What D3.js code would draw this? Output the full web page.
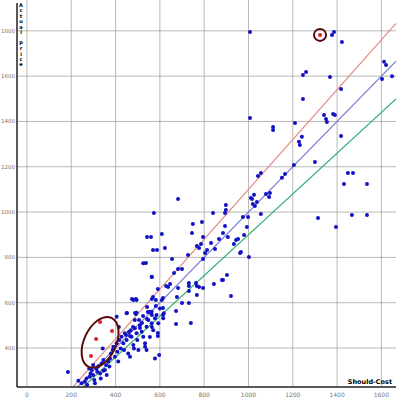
<!DOCTYPE html>
<html><head><meta charset="utf-8">
<script src="https://cdn.jsdelivr.net/npm/d3@7"></script>
<style>body{margin:0;background:#fff}svg{display:block;font-family:"DejaVu Sans",sans-serif}</style>
</head><body><div id="chart"></div>
<script>
const xTicks = [0, 200, 400, 600, 800, 1000, 1200, 1400, 1600];
const yTicks = [400, 600, 800, 1000, 1200, 1400, 1600, 1800];
const lineFactors = [1.1, 1.0, 0.9];
const lineColors = ["#e08a86", "#7b7bd6", "#2fb070"];

// blue points [should-cost, actual]
const points = [
  [1007,1795],[1377,1782],[1386,1795],[1422,1751],[1246,1605],[1260,1618],[1368,1596],[1418,1543],
  [1246,1499],[1007,1415],[1111,1376],[1111,1362],[1210,1393],[1341,1429],[1350,1411],[1354,1398],
  [1382,1433],[1390,1429],[1418,1336],[1241,1332],[1228,1310],[1232,1296],[1300,1221],[1205,1208],
  [1165,1168],[1151,1151],[1056,1173],[1043,1159],[1449,1173],[1472,1173],[1431,1124],[1535,1124],
  [1079,1080],[1097,1084],[1093,1067],[1025,1076],[1016,1058],[1038,1044],[1020,1036],[1029,1027],
  [975,978],[998,978],[993,934],[1056,992],[1314,974],[1395,934],[1467,987],[1535,987],
  [1612,1663],[1621,1649],[1603,1587],[1648,1600],
  [682,1058],[573,996],[542,890],[560,890],[609,903],[569,833],[587,833],[623,842],[655,793],
  [537,775],[564,713],[664,731],[682,749],[700,749],[727,811],[749,947],[790,956],[745,908],
  [795,890],[786,859],[767,850],[777,842],[813,833],[804,819],[795,793],[840,996],[898,1031],
  [898,1009],[894,996],[894,939],[885,908],[867,881],[849,837],[831,864],[907,890],[934,859],
  [944,877],[953,881],[962,819],[966,824],[1002,802],[980,899],[1011,1062],
  [903,722],[885,700],[880,700],[921,630],[844,683],[763,687],[767,674],[777,669],[795,665],
  [731,687],[731,674],[731,652],[682,665],[677,625],[767,634],[700,599],[731,599],[673,563],
  [673,506],[740,510],[614,577],[618,554],[614,546],[637,669],[628,674],[646,683],[609,612],
  [614,621],[582,612],[582,585],[591,660],[569,625],[564,616],[542,581],[546,559],[560,555],
  [564,546],[524,541],[542,528],[519,510],[506,524],[488,555],[492,550],[474,616],[492,616],
  [564,493],[555,449],[591,466],[591,453],[510,488],[479,493],[460,471],[447,457],[465,453],
  [415,493],[451,555],[185,294],
  [232,256],[247,244],[262,251],[269,266],[272,237],[284,273],[287,288],[292,303],[299,281],
  [304,259],[307,244],[314,310],[317,295],[322,320],[330,288],[333,266],[337,332],[345,347],
  [352,303],[357,325],[360,281],[367,340],[372,318],[375,354],[379,376],[387,391],[390,406],
  [397,362],[405,421],[408,384],[412,340],[417,435],[423,398],[427,450],[435,421],[438,391],
  [442,465],[450,435],[457,376],[465,362],[468,479],[472,450],[480,413],[483,398],[487,487],
  [495,465],[498,435],[503,391],[510,501],[518,472],[525,450],[533,421],[540,494],[548,524],
  [552,560],[563,509],[570,479],[578,531],[585,546],[593,509],[600,575],[597,369],[578,354],
  [533,406],[540,391],[615,531],[563,560],[450,553],[495,556],[487,524],[525,774],[563,715],
  [480,612],[495,612],[405,538],[342,398],[345,300],[299,325],[281,310]
];
// red highlighted points
const redPoints = [[330,515],[384,475],[312,440],[289,365],[1323,1782]];

const W = 400, H = 400;
const m = {left: 17, right: 4, top: 0, bottom: 13};
const svg = d3.select("#chart").append("svg").attr("width", W).attr("height", H);

const x = d3.scaleLinear().domain([-45, 1666]).range([m.left, W - m.right]);
const y = d3.scaleLinear().domain([228, 1936]).range([H - m.bottom, m.top]);

svg.append("defs").append("clipPath").attr("id", "clip")
  .append("rect").attr("x", m.left).attr("y", m.top)
  .attr("width", W - m.left - m.right).attr("height", H - m.top - m.bottom);

// grid
svg.append("g").selectAll("line").data(xTicks).join("line")
  .attr("x1", d => x(d)).attr("x2", d => x(d))
  .attr("y1", m.top).attr("y2", H - m.bottom)
  .attr("stroke", "#9a9a9a").attr("stroke-width", 0.7);
svg.append("g").selectAll("line").data(yTicks).join("line")
  .attr("x1", m.left).attr("x2", W - m.right)
  .attr("y1", d => y(d)).attr("y2", d => y(d))
  .attr("stroke", "#9a9a9a").attr("stroke-width", 0.7);

// tick labels
svg.append("g").selectAll("text").data(xTicks).join("text")
  .attr("x", d => x(d)).attr("y", H - 3)
  .attr("text-anchor", "middle").attr("font-size", 6).attr("fill", "#777")
  .text(d => d);
svg.append("g").selectAll("text").data(yTicks).join("text")
  .attr("x", 15).attr("y", d => y(d) + 2)
  .attr("text-anchor", "end").attr("font-size", 5.5).attr("fill", "#777")
  .text(d => d);

// reference lines
const plot = svg.append("g").attr("clip-path", "url(#clip)");
lineFactors.forEach((f, i) => {
  plot.append("line")
    .attr("x1", x(0)).attr("y1", y(0))
    .attr("x2", x(1666)).attr("y2", y(1666 * f))
    .attr("stroke", lineColors[i]).attr("stroke-width", 1.2);
});

// points
plot.selectAll("circle.b").data(points).join("circle").attr("class", "b")
  .attr("cx", d => x(d[0])).attr("cy", d => y(d[1])).attr("r", 2)
  .attr("fill", "#1212c4");
plot.selectAll("circle.r").data(redPoints).join("circle").attr("class", "r")
  .attr("cx", d => x(d[0])).attr("cy", d => y(d[1])).attr("r", 2)
  .attr("fill", "#e02020");

// highlight marks
plot.append("ellipse")
  .attr("transform", `translate(${x(330)},${y(425)}) rotate(25)`)
  .attr("rx", 16).attr("ry", 27)
  .attr("fill", "none").attr("stroke", "#5a0a0a").attr("stroke-width", 2);
plot.append("circle")
  .attr("cx", x(1323)).attr("cy", y(1782)).attr("r", 6)
  .attr("fill", "none").attr("stroke", "#5a0a0a").attr("stroke-width", 2);

// axes
svg.append("line").attr("x1", m.left).attr("x2", m.left)
  .attr("y1", 3).attr("y2", H - m.bottom).attr("stroke", "#222").attr("stroke-width", 1.5);
svg.append("line").attr("x1", m.left).attr("x2", W - m.right)
  .attr("y1", H - m.bottom).attr("y2", H - m.bottom).attr("stroke", "#222").attr("stroke-width", 1.5);

// titles
svg.append("text").attr("x", 392).attr("y", H - m.bottom - 3)
  .attr("text-anchor", "end").attr("font-size", 6.5).attr("font-weight", "bold")
  .text("Should-Cost");
const yTitle = svg.append("text").attr("font-size", 5).attr("font-weight", "bold")
  .attr("text-anchor", "middle");
yTitle.selectAll("tspan").data("Actual Price".split("")).join("tspan")
  .attr("x", 21).attr("y", (d, i) => 7 + i * 5.4).text(d => d);
</script></body></html>
